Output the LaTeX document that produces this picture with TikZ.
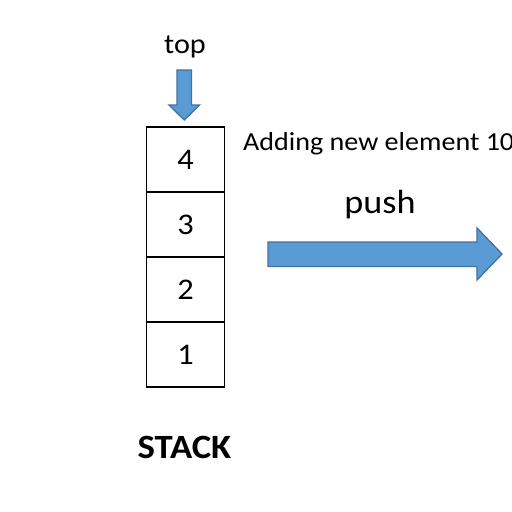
\documentclass[tikz,border=0pt]{standalone}
\usepackage{fontspec}
\setmainfont{Carlito}[FakeStretch=1.08]
\begin{document}
\begin{tikzpicture}[x=1pt,y=-1pt,
  cell/.style={draw=black,line width=1.2pt,minimum width=78pt,minimum height=65pt,inner sep=0pt,font=\fontsize{30}{30}\selectfont},
  bluearrow/.style={fill=arrowfill,draw=arrowdraw,line width=1.3pt,line join=miter},
  lbl/.style={anchor=base,inner sep=0pt,text=black}]
\definecolor{arrowfill}{HTML}{5B9BD5}
\definecolor{arrowdraw}{HTML}{41719C}
\useasboundingbox (0,0) rectangle (512,512);
\clip (0,0) rectangle (512,512);
\fill[white] (0,0) rectangle (512,512);
% stack cells
\node[cell] (c4) at (185.5,159.5) {4};
\node[cell] (c3) at (185.5,224.5) {3};
\node[cell] (c2) at (185.5,289.5) {2};
\node[cell] (c1) at (185.5,354.5) {1};
% labels
\node[lbl,font=\fontsize{28}{28}\selectfont] (top) at (185,53) {top};
\node[lbl,anchor=base west,font=\fontsize{26}{26}\selectfont] (add) at (243,150) {Adding new element 10};
\node[lbl,font=\fontsize{33.5}{33.5}\selectfont] (push) at (380,213) {push};
\node[lbl,font=\fontsize{34}{34}\selectfont\bfseries] (stack) at (184.5,458) {STACK};
% top arrow
\draw[bluearrow] (177,70) -- (191.5,70) -- (191.5,105) -- (199.5,105) -- (184.25,120) -- (169,105) -- (177,105) -- cycle;
% push arrow
\draw[bluearrow] (268,242) -- (477,242) -- (477,228) -- (502,254) -- (477,280) -- (477,266.5) -- (268,266.5) -- cycle;
\end{tikzpicture}
\end{document}
